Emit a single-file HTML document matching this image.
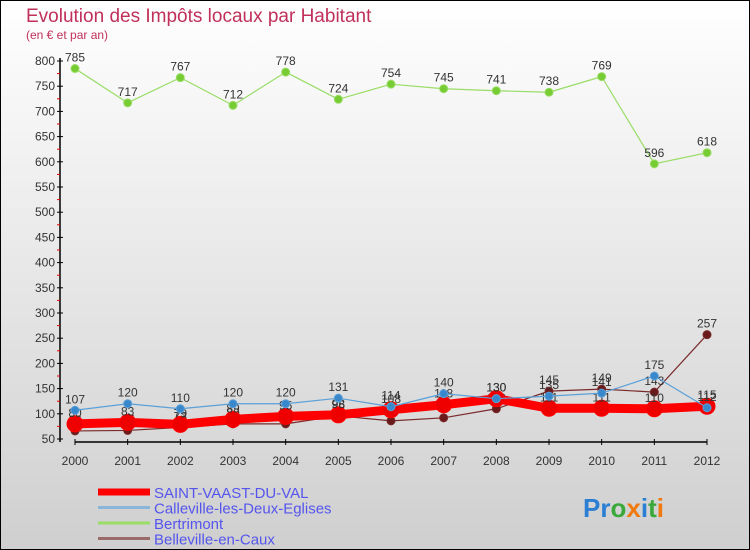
<!DOCTYPE html>
<html><head><meta charset="utf-8"><style>
body{margin:0;width:750px;height:550px;overflow:hidden;font-family:"Liberation Sans",sans-serif}
svg{display:block}
</style></head><body>
<svg id="c" width="750" height="550" xmlns="http://www.w3.org/2000/svg">
<defs><linearGradient id="bg" x1="0" y1="0" x2="0" y2="1"><stop offset="0" stop-color="#ffffff"/><stop offset="1" stop-color="#cfcfcf"/></linearGradient></defs>
<rect x="0.5" y="0.5" width="749" height="549" fill="url(#bg)" stroke="#000"/>
<text x="26" y="22" font-size="19" fill="#c0305a">Evolution des Impôts locaux par Habitant</text>
<text x="26" y="39" font-size="12" fill="#c0305a">(en € et par an)</text>
<g id="axes"></g><g id="series"></g><g id="legend"></g>
<text x="583" y="517" font-size="26" font-weight="bold"><tspan fill="#2a7fd4">P</tspan><tspan fill="#2a7fd4">r</tspan><tspan fill="#3aa83a">o</tspan><tspan fill="#f07a10">x</tspan><tspan fill="#2a7fd4">i</tspan><tspan fill="#3aa83a">t</tspan><tspan fill="#f07a10">i</tspan></text>
</svg>
<script>
const years=[2000,2001,2002,2003,2004,2005,2006,2007,2008,2009,2010,2011,2012];
const yTicks=[50,100,150,200,250,300,350,400,450,500,550,600,650,700,750,800];
const saint=[80,83,79,89,95,98,108,118,130,111,111,110,115];
const calle=[107,120,110,120,120,131,114,140,130,135,141,175,112];
const bert=[785,717,767,712,778,724,754,745,741,738,769,596,618];
const belle=[66,67,73,80,80,96,86,92,110,145,149,143,257];
const NS="http://www.w3.org/2000/svg";
const x=i=>75+i*(707-75)/(years.length-1);
const y=v=>439-(v-50)*(439-61)/750;
function mk(p,t,a){const e=document.createElementNS(NS,t);for(const k in a)e.setAttribute(k,a[k]);p.appendChild(e);return e;}
const ax=document.getElementById('axes');
const yl=mk(ax,'line',{x1:60,y1:58,x2:60,y2:442,stroke:'#000','stroke-width':1.5});


const xl=mk(ax,'line',{x1:75,y1:442,x2:707,y2:442,stroke:'#000','stroke-width':1.5});


yTicks.forEach((v,i)=>{
 mk(ax,'line',{x1:57,x2:63,y1:y(v),y2:y(v),stroke:'#000'});
 if(i<yTicks.length-1)mk(ax,'line',{x1:57,x2:60,y1:y(v+25),y2:y(v+25),stroke:'#e00'});
 const t=mk(ax,'text',{x:55,y:y(v)+4,'font-size':12,'text-anchor':'end',fill:'#333'});t.textContent=v;
 
 
});
years.forEach((yr,i)=>{
 mk(ax,'line',{x1:x(i),x2:x(i),y1:439,y2:445,stroke:'#000'});
 const t=mk(ax,'text',{x:x(i),y:465,'font-size':12,'text-anchor':'middle',fill:'#333'});t.textContent=yr;
 
 
});
const sg=document.getElementById('series');
function series(data,color,mcolor,w,r,name,labels){
 const g=mk(sg,'g',{});
 
 
 mk(g,'polyline',{points:data.map((v,i)=>x(i)+','+y(v)).join(' '),fill:'none',stroke:color,'stroke-width':w,'stroke-linejoin':'round'});
 data.forEach((v,i)=>{
  const c=mk(g,'circle',{cx:x(i),cy:y(v),r:r,fill:mcolor,stroke:color,'stroke-width':1});
  
  
  if(labels){const t=mk(g,'text',{x:x(i),y:y(v)-7,'font-size':12,'text-anchor':'middle',fill:'#333'});t.textContent=v;}
 });
}
series(belle,'#7a2a2a','#6a1a1a',1.2,4,'series-belleville',true);
series(saint,'#ff0000','#ee0000',9,8,'series-saint-vaast',true);
series(calle,'#5aa0d8','#3a88cc',1.2,4,'series-calleville',true);
series(bert,'#99dd66','#77cc33',1.2,4,'series-bertrimont',true);
const lg=document.getElementById('legend');
const items=[['SAINT-VAAST-DU-VAL','#ff0000',7],['Calleville-les-Deux-Eglises','#8ab4d8',3],['Bertrimont','#99dd66',3],['Belleville-en-Caux','#9a6a6a',3]];
items.forEach((it,i)=>{
 const yy=493+i*15.5;
 const g=mk(lg,'g',{});
 
 
 mk(g,'line',{x1:98,x2:150,y1:yy-1,y2:yy-1,stroke:it[1],'stroke-width':it[2]});
 const t=mk(g,'text',{x:154,y:yy+5,'font-size':15,fill:'#5555ee'});t.textContent=it[0];
});
</script>
</body></html>
